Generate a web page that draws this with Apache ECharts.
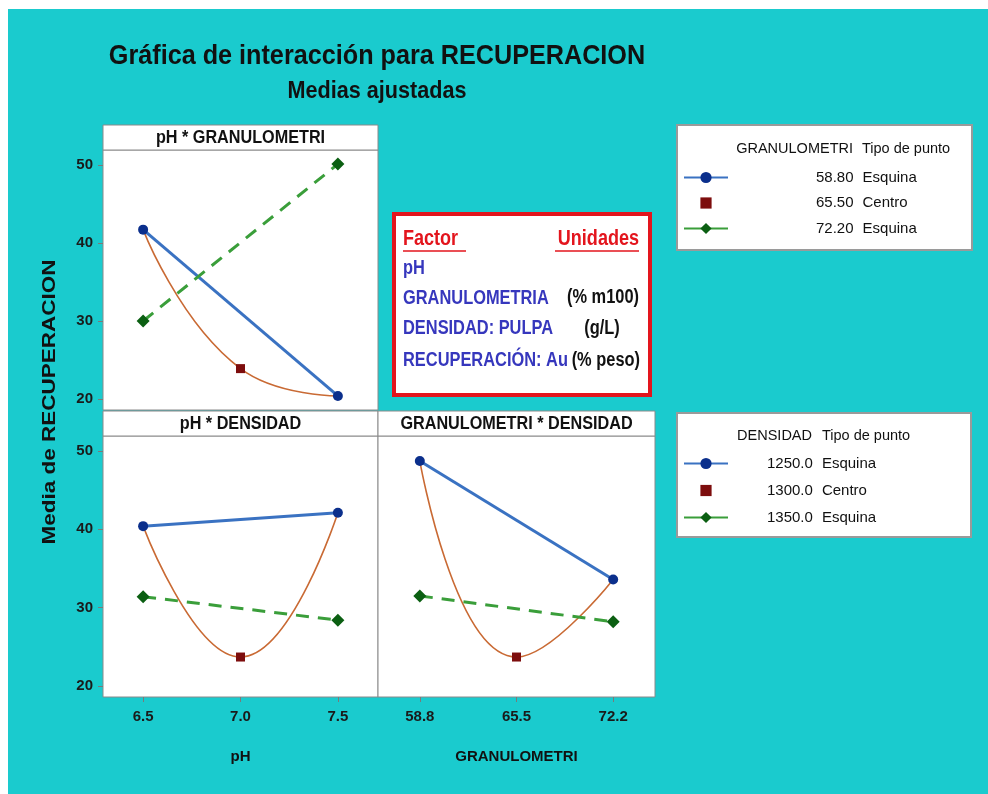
<!DOCTYPE html>
<html>
<head>
<meta charset="utf-8">
<script src="https://cdn.jsdelivr.net/npm/echarts@6/dist/echarts.min.js"></script>
<style>
  html, body { margin: 0; padding: 0; background: #fff; }
  #chart { width: 988px; height: 794px; }
</style>
</head>
<body>
<div id="chart"></div>
<script>
// niveles de los factores
const phLevels = [6.5, 7.0, 7.5];
const granLevels = [58.8, 65.5, 72.2];
const granNames = ['58.80', '65.50', '72.20'];
const densNames = ['1250.0', '1300.0', '1350.0'];
const pointTypes = ['Esquina', 'Centro', 'Esquina'];
const yTicks = [20, 30, 40, 50];

// medias ajustadas: nivel bajo (extremos), centro, nivel alto (extremos)
const phGranLow = [41.7, 20.4];
const phGranCenter = [23.9];
const phGranHigh = [30.0, 50.1];
const phDensLow = [40.4, 42.1];
const phDensCenter = [23.7];
const phDensHigh = [31.4, 28.4];
const granDensLow = [48.7, 33.6];
const granDensCenter = [23.7];
const granDensHigh = [31.5, 28.2];

const FONT = '"Liberation Sans", Arial, sans-serif';
const BLUE_LINE = '#3a72c2', BLUE_DOT = '#0b2f8c';
const GREEN_LINE = '#3a9e3a', GREEN_DOT = '#0b5f12';
const RED_DOT = '#7d0d0d', CURVE = '#c96a34';

function panelSeries(idx, xs, low, center, high, names) {
  const ends = [xs[0], xs[2]];
  return [
    {
      name: 'curva' + idx, type: 'line', smooth: 0.5, xAxisIndex: idx, yAxisIndex: idx,
      showSymbol: false, silent: true, z: 1,
      data: [[xs[0], low[0]], [xs[1], center[0]], [xs[2], low[1]]],
      lineStyle: { color: CURVE, width: 1.6 }
    },
    {
      name: names[0], type: 'line', xAxisIndex: idx, yAxisIndex: idx, z: 3,
      data: ends.map((x, i) => [x, low[i]]),
      symbol: 'circle', symbolSize: 10,
      itemStyle: { color: BLUE_DOT }, lineStyle: { color: BLUE_LINE, width: 3 }
    },
    {
      name: names[1], type: 'line', xAxisIndex: idx, yAxisIndex: idx, z: 4,
      data: [[xs[1], center[0]]],
      symbol: 'rect', symbolSize: 9,
      itemStyle: { color: RED_DOT }, lineStyle: { opacity: 0 }
    },
    {
      name: names[2], type: 'line', xAxisIndex: idx, yAxisIndex: idx, z: 3,
      data: ends.map((x, i) => [x, high[i]]),
      symbol: 'diamond', symbolSize: 13,
      itemStyle: { color: GREEN_DOT }, lineStyle: { color: GREEN_LINE, width: 3, type: [13, 9] }
    }
  ];
}

const tickLabel = { fontFamily: FONT, fontWeight: 'bold', fontSize: 15, color: '#1a1a1a' };
const nameStyle = { fontFamily: FONT, fontWeight: 'bold', fontSize: 15, color: '#111' };

function xAxisFor(grid, min, max, ticks, fmt, name) {
  const shown = ticks !== null;
  return {
    gridIndex: grid, type: 'value', min: min, max: max,
    axisLine: { show: false }, splitLine: { show: false },
    axisTick: shown ? { show: true, customValues: ticks, length: 5, lineStyle: { color: '#7a7a7a' } } : { show: false },
    axisLabel: shown ? Object.assign({ customValues: ticks, margin: 12, formatter: fmt }, tickLabel) : { show: false },
    name: name || '', nameLocation: 'middle', nameGap: 52, nameTextStyle: nameStyle
  };
}

function yAxisFor(grid, labels) {
  return {
    gridIndex: grid, type: 'value', min: 18.6, max: 51.9,
    axisLine: { show: false }, splitLine: { show: false },
    axisTick: labels ? { show: true, customValues: yTicks, length: 5, lineStyle: { color: '#7a7a7a' } } : { show: false },
    axisLabel: labels ? Object.assign({ customValues: yTicks, margin: 10 }, tickLabel) : { show: false }
  };
}

function txt(text, x, y, size, opts) {
  opts = opts || {};
  return {
    type: 'text', x: x, y: y, z: 10, rotation: opts.rotation || 0,
    scaleX: opts.scaleX || 1, scaleY: opts.scaleY || 1,
    style: {
      text: text, x: 0, y: 0,
      font: (opts.weight || 'bold') + ' ' + size + 'px ' + FONT,
      fill: opts.color || '#111',
      textAlign: opts.align || 'left', align: opts.align || 'left',
      textVerticalAlign: 'middle', verticalAlign: 'middle'
    }
  };
}

function box(x, y, w, h, stroke, lw, z) {
  return { type: 'rect', z: z || 0, shape: { x: x, y: y, width: w, height: h },
    style: { fill: '#fff', stroke: stroke, lineWidth: lw } };
}

function uline(x1, x2, y, color) {
  return { type: 'line', z: 10, shape: { x1: x1, y1: y, x2: x2, y2: y }, style: { stroke: color, lineWidth: 1.6 } };
}

function legendFor(names, top, valuePad, gap) {
  return {
    data: names.map(n => ({ name: n, lineStyle: { type: 'solid' } })),
    orient: 'vertical', left: 683, top: top, padding: 0,
    itemWidth: 44, itemHeight: 14, itemGap: gap, selectedMode: false,
    formatter: n => '{v|' + n + '}{t|' + pointTypes[names.indexOf(n)] + '}',
    textStyle: {
      fontFamily: FONT, fontSize: 15, color: '#111',
      rich: {
        v: { fontFamily: FONT, fontSize: 15, color: '#111', padding: [0, 0, 0, valuePad] },
        t: { fontFamily: FONT, fontSize: 15, color: '#111', padding: [0, 0, 0, 9] }
      }
    }
  };
}

const RED = '#e3151d', FBLUE = '#3637bd';
const N = 0.82; // compresion horizontal de los textos (aspecto estrecho del original)

const graphics = [
  { type: 'rect', z: 0, shape: { x: 0, y: 0, width: 988, height: 9 }, style: { fill: '#fff' } },
  { type: 'rect', z: 0, shape: { x: 0, y: 0, width: 8, height: 794 }, style: { fill: '#fff' } },
  txt('Gráfica de interacción para RECUPERACION', 377, 56, 28, { align: 'center', scaleX: 0.9 }),
  txt('Medias ajustadas', 377, 91, 24, { align: 'center', scaleX: 0.9 }),
  txt('Media de RECUPERACION', 50, 402, 22.5, { align: 'center', rotation: Math.PI / 2, scaleY: 0.85 }),
  // cabeceras de los paneles
  box(103, 125, 275, 25, '#8a8a8a', 1, 1),
  txt('pH * GRANULOMETRI', 240.5, 138, 18, { align: 'center', scaleX: 0.9 }),
  box(103, 411, 275, 25, '#8a8a8a', 1, 1),
  txt('pH * DENSIDAD', 240.5, 424, 18, { align: 'center', scaleX: 0.9 }),
  box(378, 411, 277, 25, '#8a8a8a', 1, 1),
  txt('GRANULOMETRI * DENSIDAD', 516.5, 424, 18, { align: 'center', scaleX: 0.9 }),
  // cajas de leyenda
  box(677, 125, 295, 125, '#9a9a9a', 2, 0),
  txt('GRANULOMETRI', 853, 149, 14.5, { align: 'right', weight: 'normal' }),
  txt('Tipo de punto', 862, 149, 14.5, { weight: 'normal' }),
  box(677, 413, 294, 124, '#9a9a9a', 2, 0),
  txt('DENSIDAD', 812, 436, 14.5, { align: 'right', weight: 'normal' }),
  txt('Tipo de punto', 822, 436, 14.5, { weight: 'normal' }),
  // cuadro de factores
  box(394, 214, 256, 181, RED, 4, 5),
  txt('Factor', 403, 239, 22, { color: RED, scaleX: N }),
  uline(403, 466, 251, RED),
  txt('Unidades', 639, 239, 22, { color: RED, align: 'right', scaleX: N }),
  uline(555, 639, 251, RED),
  txt('pH', 403, 268, 20, { color: FBLUE, scaleX: N }),
  txt('GRANULOMETRIA', 403, 298, 20, { color: FBLUE, scaleX: N }),
  txt('(% m100)', 639, 297, 20, { align: 'right', scaleX: N }),
  txt('DENSIDAD: PULPA', 403, 328, 20, { color: FBLUE, scaleX: N }),
  txt('(g/L)', 602, 328, 20, { align: 'center', scaleX: N }),
  txt('RECUPERACIÓN: Au', 403, 360, 20, { color: FBLUE, scaleX: N }),
  txt('(% peso)', 640, 360, 20, { align: 'right', scaleX: N })
];

const chart = echarts.init(document.getElementById('chart'), null, { renderer: 'canvas' });
chart.setOption({
  animation: false,
  backgroundColor: '#1acbce',
  grid: [
    { left: 103, top: 150, width: 275, height: 260, show: true, backgroundColor: '#fff', borderColor: '#8a8a8a', borderWidth: 1 },
    { left: 103, top: 436, width: 275, height: 261, show: true, backgroundColor: '#fff', borderColor: '#8a8a8a', borderWidth: 1 },
    { left: 378, top: 436, width: 277, height: 261, show: true, backgroundColor: '#fff', borderColor: '#8a8a8a', borderWidth: 1 }
  ],
  xAxis: [
    xAxisFor(0, 6.294, 7.706, null),
    xAxisFor(1, 6.294, 7.706, phLevels, v => v.toFixed(1), 'pH'),
    xAxisFor(2, 55.9, 75.1, granLevels, v => v.toFixed(1), 'GRANULOMETRI')
  ],
  yAxis: [yAxisFor(0, true), yAxisFor(1, true), yAxisFor(2, false)],
  legend: [
    legendFor(granNames, 170, 83, 10.5),
    legendFor(densNames, 456, 34, 12)
  ],
  graphic: { elements: graphics },
  series: [].concat(
    panelSeries(0, phLevels, phGranLow, phGranCenter, phGranHigh, granNames),
    panelSeries(1, phLevels, phDensLow, phDensCenter, phDensHigh, densNames),
    panelSeries(2, granLevels, granDensLow, granDensCenter, granDensHigh, densNames)
  )
});
</script>
</body>
</html>
